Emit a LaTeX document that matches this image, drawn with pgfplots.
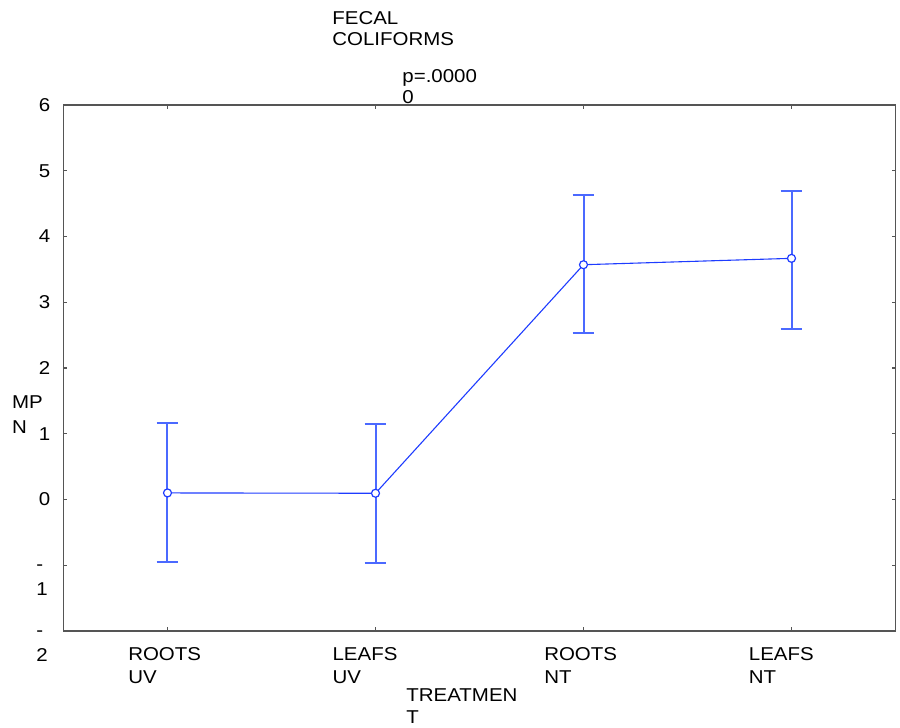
\documentclass[border=0pt]{standalone}
\usepackage{fontspec}
\setmainfont{Liberation Sans}[FakeStretch=1.1]
\usepackage{pgfplots}
\pgfplotsset{compat=1.18}
\definecolor{pblue}{RGB}{30,60,255}
\definecolor{eblue}{RGB}{75,105,255}
\definecolor{axgray}{RGB}{85,85,85}
\pgfplotsset{/pgfplots/error bars/draw error bar/.code 2 args={%
  \draw[eblue, line width=1pt] #1 -- #2 ++(-5.4pt,0pt) -- ++(10.8pt,0pt);}}
\newcommand\two[3]{{\fontsize{9.3pt}{#1}\selectfont\begin{tabular}[t]{@{}l@{}}#2\\#3\end{tabular}}}
\begin{document}
\begin{tikzpicture}
\useasboundingbox (-31.75pt,-48.5pt) rectangle (418.25pt,315.5pt);
\begin{axis}[
  at={(0,0)}, anchor=south west,
  scale only axis, width=416pt, height=263pt,
  xmin=-0.5, xmax=3.5, ymin=-2, ymax=6,
  font=\fontsize{9.3pt}{11.5pt}\selectfont,
  axis line style={draw=axgray, line width=0.6pt},
  tick style={draw=axgray, line width=0.6pt},
  tick align=inside, major tick length=2pt,
  /pgf/number format/assume math mode=true,
  xtick={0,1,2,3},
  xticklabels={{\two{11.5pt}{ROOTS}{UV}},{\hspace*{-1.85pt}\two{11.5pt}{LEAFS}{UV}},{\two{11.5pt}{ROOTS}{NT}},{\hspace*{-1.7pt}\two{11.5pt}{LEAFS}{NT}}},
  xticklabel style={anchor=base west, inner sep=0pt, xshift=-19.8pt, yshift=-14.75pt},
  ytick={0,1,2,3,4,5,6},
  yticklabels={0,1,2,3,4,5,6},
  yticklabel style={anchor=east, inner sep=0pt, xshift=-6.4pt},
  extra y ticks={-1,-2},
  extra y tick labels={{\two{12.5pt}{-}{1}},{\two{12.5pt}{-}{2}}},
  extra y tick style={yticklabel style={anchor=base west, xshift=-7.35pt, yshift=-2.8pt}},
  title={\two{10.5pt}{FECAL}{COLIFORMS}},
  every axis title/.style={at={(axis description cs:0.3227,1.154)}, anchor=base west, inner sep=0pt},
  xlabel={\two{10.8pt}{TREATMEN}{T}},
  every axis x label/.style={at={(axis description cs:0.41166,-0.13441)}, anchor=base west, inner sep=0pt},
  ylabel={\two{12.5pt}{MP}{N}},
  every axis y label/.style={at={(axis description cs:-0.06226,0.42395)}, anchor=base west, inner sep=0pt},
  clip=false,
]
\addplot[color=pblue, line width=0.55pt, mark=*, mark size=2pt,
  mark options={fill=white, draw=pblue, solid, line width=0.6pt},
  error bars/.cd, y dir=both, y explicit]
  table[x=x, y=y, y error plus=ep, y error minus=em] {
    x y     ep   em
    0 0.100 1.06 1.05
    1 0.095 1.05 1.06
    2 3.571 1.06 1.04
    3 3.668 1.03 1.08
  };
\node[anchor=base west, inner sep=0pt] at (axis description cs:0.4069,1.0437) {\two{10.65pt}{p=.0000}{0}};
\end{axis}
\end{tikzpicture}
\end{document}
